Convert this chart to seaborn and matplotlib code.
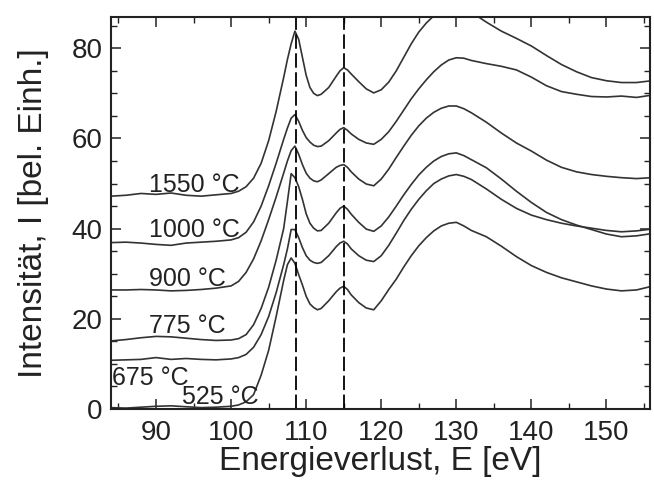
import matplotlib
matplotlib.use('Agg')
import numpy as np
import pandas as pd
import seaborn as sns
import matplotlib.pyplot as plt
from matplotlib.ticker import MultipleLocator

# Energieachse (eV), gemeinsam fuer alle Spektren
energy = [84, 86, 88, 90, 92, 94, 96, 98, 100,
          101, 102, 103, 104, 105, 106, 107,
          107.5, 108, 108.5, 109, 109.5, 110, 110.5, 111, 111.5, 112,
          113, 114, 114.5, 115, 115.5,
          116, 117, 118, 119, 120, 121, 122, 123, 124, 125, 126, 127, 128, 129, 130, 131, 132,
          134, 136, 138, 140, 142, 144, 146, 148, 150, 152, 154, 156]

i1550 = [47.2, 47.4, 47.8, 47.6, 47.9, 47.4, 47.2, 47.5, 47.8,
         48.3, 49.3, 51.2, 54.5, 59.5, 66.0, 73.5,
         77.5, 81.0, 83.8, 82.0, 78.0, 74.0, 71.3, 70.0, 69.5, 69.8,
         71.3, 73.8, 75.0, 75.7, 75.2,
         74.3, 72.6, 71.0, 70.1, 70.8, 72.5, 75.0, 78.0, 81.0, 83.6, 85.6, 87.2, 88.3, 89.0, 89.2, 88.8, 88.0,
         85.8, 83.8, 82.2, 80.5, 78.4, 76.4, 74.8, 73.5, 72.8, 72.4, 72.4, 72.8]

i1000 = [36.9, 37.0, 36.8, 36.5, 36.3, 36.8, 37.0, 37.2, 37.5,
         38.0, 39.2, 41.5, 45.0, 49.5, 54.5, 59.8,
         62.3, 64.5, 65.3, 63.8, 61.8, 60.2, 59.2, 58.5, 58.2, 58.3,
         59.5, 61.2, 62.0, 62.4, 61.8,
         61.0, 59.8, 59.0, 58.7, 59.8, 61.5, 63.8, 66.3, 68.8, 71.0, 73.0, 74.8, 76.3, 77.4, 77.9, 77.8, 77.3,
         76.6, 76.0, 75.2, 73.6, 71.7, 70.4, 69.8, 69.3, 69.2, 69.4, 69.1, 69.6]

i900 = [26.4, 26.4, 26.5, 26.4, 26.2, 26.3, 26.5, 26.8, 27.3,
        28.3, 30.3, 33.3, 37.3, 42.0, 47.0, 52.3,
        55.0, 57.3, 58.3, 56.5, 54.2, 52.3, 51.2, 50.6, 50.4, 50.8,
        52.2, 53.6, 54.0, 54.2, 53.6,
        52.6, 51.0, 49.9, 49.5, 51.0, 53.2, 55.8, 58.3, 60.7, 62.8, 64.5, 65.8, 66.7, 67.2, 67.2, 66.6, 65.7,
        63.6, 61.2, 59.0, 57.2, 55.2, 53.6, 52.6, 52.0, 51.6, 51.3, 51.1, 51.3]

i775 = [15.1, 15.4, 15.8, 16.1, 16.0, 15.7, 15.4, 15.2, 15.3,
        15.6, 16.5, 18.7, 22.3, 27.0, 33.0, 40.0,
        46.0, 52.2, 51.3, 49.3, 46.5, 43.3, 41.2, 40.1, 39.5, 39.6,
        41.2, 43.5, 44.5, 45.0, 44.3,
        43.2, 41.4, 39.9, 39.4, 40.6, 42.6, 45.0, 47.5, 49.8, 51.9, 53.6, 55.0, 56.0, 56.6, 56.8, 56.2, 55.3,
        53.5, 51.0, 48.3, 45.8, 43.6, 42.0, 40.8, 39.8, 38.8, 38.2, 38.4, 38.9]

i675 = [10.8, 10.9, 11.0, 11.4, 11.0, 11.2, 11.0, 10.9, 11.1,
        11.4, 12.1, 13.7, 16.5, 20.5, 25.8, 32.0,
        35.5, 39.8, 39.8, 38.0, 35.8, 34.0, 33.0, 32.5, 32.3, 32.5,
        34.0, 36.0, 36.8, 37.2, 36.6,
        35.5, 34.0, 33.0, 32.7, 34.0, 36.3, 39.0, 41.8, 44.3, 46.5, 48.4, 50.0, 51.0, 51.7, 52.0, 51.6, 50.9,
        48.8, 46.5, 44.5, 43.0, 42.0, 41.2, 40.6, 40.1, 39.6, 39.3, 39.5, 39.9]

i525 = [0.3, 0.2, 0.4, 0.6, 0.7, 0.5, 0.3, 0.4, 0.6,
        0.9, 1.6, 3.2, 7.5, 13.0, 20.5, 28.5,
        32.0, 33.5, 32.3, 29.8, 27.5, 25.0, 23.3, 22.5, 22.0, 22.3,
        24.0, 26.0, 26.8, 27.2, 26.5,
        25.3, 23.6, 22.4, 22.0, 24.0, 26.5, 28.8, 31.5, 34.0, 36.2, 38.0, 39.5, 40.6, 41.2, 41.4, 40.6, 39.6,
        38.2, 36.1, 33.8, 31.8, 30.3, 29.1, 28.2, 27.3, 26.6, 26.2, 26.4, 27.2]

temps = ['1550 °C', '1000 °C', '900 °C', '775 °C', '675 °C', '525 °C']
spectra = [i1550, i1000, i900, i775, i675, i525]
# Beschriftungen: (x, y) in Datenkoordinaten
label_x = [89.0, 89.0, 89.0, 89.0, 84.2, 93.4]
label_y = [49.7, 39.8, 28.9, 18.4, 6.8, 2.6]
peak_lines = [108.6, 115.1]

df = pd.DataFrame({'E': energy * len(temps),
                   'I': np.concatenate(spectra),
                   'T': np.repeat(temps, len(energy))})

sns.set_theme(style='ticks')
plt.rcParams['font.family'] = ['Liberation Sans', 'DejaVu Sans']

fig = plt.figure(figsize=(6.54, 4.93), dpi=100)
ax = fig.add_axes([0.1697, 0.1704, 0.8242, 0.7957])

line_col = '#333333'
sns.lineplot(data=df, x='E', y='I', hue='T', palette={t: line_col for t in temps},
             estimator=None, sort=False, legend=False, linewidth=1.2, ax=ax)

for xv in peak_lines:
    ax.axvline(xv, color='black', linewidth=1.3, linestyle=(0, (8, 2.5)))

for t, xl, yl in zip(temps, label_x, label_y):
    ax.text(xl, yl, t, fontsize=18, ha='left', va='center', color='#222222')

ax.set_xlim(84, 155.8)
ax.set_ylim(0, 87)
ax.xaxis.set_major_locator(MultipleLocator(10))
ax.xaxis.set_minor_locator(MultipleLocator(5))
ax.yaxis.set_major_locator(MultipleLocator(20))
ax.yaxis.set_minor_locator(MultipleLocator(5))
ax.tick_params(which='both', direction='in', top=True, right=True, colors='#222222',
               labelcolor='#222222')
ax.tick_params(which='major', length=7, width=1.1, labelsize=20)
ax.tick_params(axis='x', which='major', pad=8)
ax.tick_params(axis='y', which='major', pad=6)
ax.tick_params(which='minor', length=4.5, width=1.0)
for s in ax.spines.values():
    s.set_linewidth(1.5)
    s.set_color('#222222')

ax.set_xlabel('Energieverlust, E [eV]', fontsize=24, color='#222222')
ax.set_ylabel('Intensität, I [bel. Einh.]', fontsize=24, color='#222222')
ax.xaxis.set_label_coords(0.5, -0.095)
ax.yaxis.set_label_coords(-0.115, 0.5)

fig.savefig('out.png', dpi=100, facecolor='white')
